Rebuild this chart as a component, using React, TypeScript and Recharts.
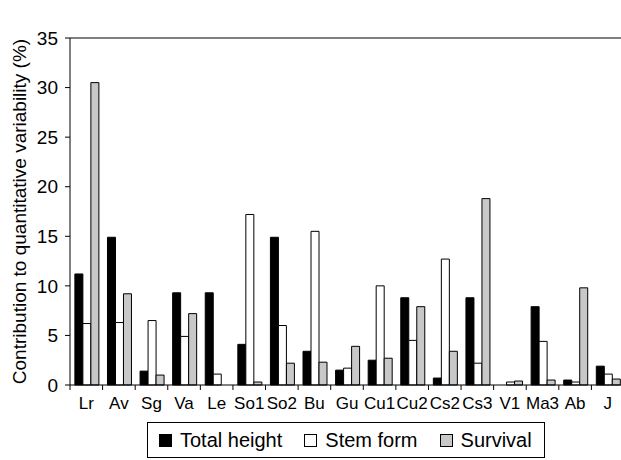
import React from 'react';
import { BarChart, Bar, XAxis, YAxis, ReferenceLine, Label } from 'recharts';

const provenances = ['Lr', 'Av', 'Sg', 'Va', 'Le', 'So1', 'So2', 'Bu', 'Gu', 'Cu1', 'Cu2', 'Cs2', 'Cs3', 'V1', 'Ma3', 'Ab', 'J'];
const totalHeight = [11.2, 14.9, 1.4, 9.3, 9.3, 4.1, 14.9, 3.4, 1.5, 2.5, 8.8, 0.7, 8.8, 0, 7.9, 0.5, 1.9];
const stemForm = [6.2, 6.3, 6.5, 4.9, 1.1, 17.2, 6.0, 15.5, 1.7, 10.0, 4.5, 12.7, 2.2, 0.3, 4.4, 0.3, 1.1];
const survival = [30.5, 9.2, 1.0, 7.2, 0, 0.3, 2.2, 2.3, 3.9, 2.7, 7.9, 3.4, 18.8, 0.4, 0.5, 9.8, 0.6];
const yTicks = [0, 5, 10, 15, 20, 25, 30, 35];

const data = provenances.map((name, i) => ({
  name,
  height: totalHeight[i],
  stem: stemForm[i],
  survival: survival[i],
}));

const font = 'Arial, "Liberation Sans", sans-serif';

// tick marks sit between categories, label sits in the middle
const CategoryTick = (props: any) => {
  const { x, y, payload, index } = props;
  const half = payload.offset || 0;
  const last = index === provenances.length - 1;
  return (
    <g>
      <line x1={x - half} x2={x - half} y1={y - 8} y2={y - 3} stroke="#000" />
      {last && <line x1={x + half} x2={x + half} y1={y - 8} y2={y - 3} stroke="#000" />}
      <text x={x} y={y + 16} textAnchor="middle" fontSize={17} fill="#000" fontFamily={font}>
        {payload.value}
      </text>
    </g>
  );
};

const YTitle = (props: any) => {
  const { viewBox } = props;
  const cx = viewBox.x + 19;
  const cy = viewBox.y + viewBox.height / 2;
  return (
    <text
      x={cx}
      y={cy}
      transform={`rotate(-90 ${cx} ${cy})`}
      textAnchor="middle"
      dominantBaseline="central"
      fontSize={19}
      fill="#000"
      fontFamily={font}
    >
      Contribution to quantitative variability (%)
    </text>
  );
};

const legendItems = [
  { label: 'Total height', fill: '#000' },
  { label: 'Stem form', fill: '#fff' },
  { label: 'Survival', fill: '#c8c8c8' },
];

export default function App() {
  return (
    <div style={{ position: 'fixed', left: 0, top: 0, width: 621, height: 460, overflow: 'hidden', background: '#fff' }}>
      <BarChart
        width={640}
        height={460}
        data={data}
        margin={{ top: 38, right: 16, left: 0, bottom: 45 }}
        barCategoryGap="15%"
        barGap={0}
      >
        <ReferenceLine y={35} stroke="#555" strokeWidth={1.5} />
        <XAxis
          dataKey="name"
          height={30}
          axisLine={{ stroke: '#000' }}
          tickLine={false}
          tick={<CategoryTick />}
          interval={0}
        />
        <YAxis
          width={70}
          domain={[0, 35]}
          ticks={yTicks}
          axisLine={{ stroke: '#000' }}
          tickLine={{ stroke: '#000' }}
          tickSize={5}
          tickMargin={7}
          tick={{ fontSize: 19, fill: '#000', fontFamily: font }}
        >
          <Label content={<YTitle />} />
        </YAxis>
        <Bar dataKey="height" fill="#000" stroke="#000" strokeWidth={1} isAnimationActive={false} />
        <Bar dataKey="stem" fill="#fff" stroke="#000" strokeWidth={1} isAnimationActive={false} />
        <Bar dataKey="survival" fill="#c8c8c8" stroke="#000" strokeWidth={1} isAnimationActive={false} />
      </BarChart>
      <div
        style={{
          position: 'absolute',
          left: 147,
          top: 422,
          width: 398,
          height: 36,
          boxSizing: 'border-box',
          border: '1px solid #000',
          display: 'flex',
          alignItems: 'center',
          paddingLeft: 11,
          fontFamily: font,
          fontSize: 20,
        }}
      >
        {legendItems.map((it, i) => (
          <span key={it.label} style={{ display: 'flex', alignItems: 'center', marginLeft: i === 0 ? 0 : 22 }}>
            <span
              style={{
                display: 'inline-block',
                width: 11,
                height: 11,
                background: it.fill,
                border: '1px solid #000',
                marginRight: 8,
              }}
            />
            {it.label}
          </span>
        ))}
      </div>
    </div>
  );
}
